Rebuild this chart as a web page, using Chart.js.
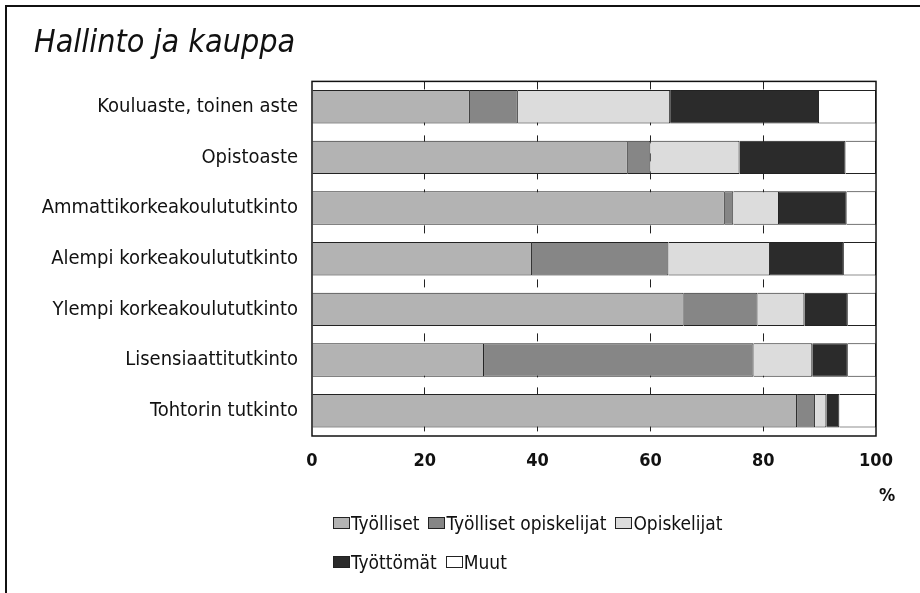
<!DOCTYPE html>
<html lang="fi">
<head>
  <meta charset="UTF-8" />
  <title>Hallinto ja kauppa</title>
  <script src="https://cdn.jsdelivr.net/npm/chart.js"></script>
  <style>
    body { margin: 0; background: #fff; }
    .wrap { position: relative; width: 920px; height: 593px; overflow: hidden; }
    .frame { position: absolute; left: 5px; top: 5px; width: 940px; height: 620px;
             border-left: 2px solid #111; border-top: 2px solid #111; }
    #chart { position: absolute; left: 0; top: 0; }
    .legend { position: absolute; left: 333px; top: 512px; width: 460px;
              font-family: "DejaVu Sans Condensed", sans-serif;
              font-size: 19px; color: #111; }
    .legend .row { display: flex; gap: 9px; height: 39px; align-items: flex-start; }
    .legend .item { display: flex; align-items: center; white-space: nowrap; }
    .legend .box { width: 17px; height: 12px; border: 1px solid #222; margin-right: 1px; box-sizing: border-box; }
  </style>
</head>
<body>
  <div class="wrap">
    <div class="frame"></div>
    <canvas id="chart" width="920" height="593"></canvas>
    <div class="legend" id="legend"></div>
  </div>

  <script>
    // Data (% of graduates)
    const categories = [
      'Kouluaste, toinen aste',
      'Opistoaste',
      'Ammattikorkeakoulututkinto',
      'Alempi korkeakoulututkinto',
      'Ylempi korkeakoulututkinto',
      'Lisensiaattitutkinto',
      'Tohtorin tutkinto'
    ];
    const seriesNames = ['Työlliset', 'Työlliset opiskelijat', 'Opiskelijat', 'Työttömät', 'Muut'];
    const tyolliset      = [28.0, 56.0, 73.2, 39.0, 65.9, 30.5, 86.0];
    const tyollOpisk     = [8.5, 4.0, 1.5, 24.2, 13.1, 47.8, 3.2];
    const opiskelijat    = [27.0, 15.8, 8.1, 18.0, 8.3, 10.4, 2.0];
    const tyottomat      = [26.4, 18.8, 12.0, 13.1, 7.7, 6.3, 2.3];
    const muut           = [10.1, 5.4, 5.2, 5.7, 5.0, 5.0, 6.5];
    const xTicks = [0, 20, 40, 60, 80, 100];

    const colors = ['#b3b3b3', '#868686', '#dcdcdc', '#2b2b2b', '#ffffff'];
    const values = [tyolliset, tyollOpisk, opiskelijat, tyottomat, muut];

    const datasets = seriesNames.map((name, i) => ({
      label: name,
      data: values[i],
      backgroundColor: colors[i],
      borderColor: '#222',
      borderWidth: 1,
      barPercentage: 0.66,
      categoryPercentage: 1
    }));

    const fam = '"DejaVu Sans Condensed", sans-serif';

    // border round the plot and the "%" unit
    const framePlugin = {
      id: 'framePlugin',
      afterDatasetsDraw(chart) {
        const { ctx, chartArea: a } = chart;
        ctx.save();
        ctx.strokeStyle = '#111';
        ctx.lineWidth = 1.5;
        ctx.strokeRect(a.left, a.top, a.right - a.left, a.bottom - a.top);
        ctx.fillStyle = '#111';
        ctx.font = 'bold 18px ' + fam;
        ctx.textAlign = 'center';
        ctx.textBaseline = 'middle';
        ctx.fillText('%', a.right + 11, a.bottom + 60);
        ctx.restore();
      }
    };

    new Chart(document.getElementById('chart'), {
      type: 'bar',
      data: { labels: categories, datasets: datasets },
      options: {
        indexAxis: 'y',
        responsive: false,
        animation: false,
        layout: { padding: { left: 34, right: 44, top: 0, bottom: 117 } },
        plugins: {
          legend: { display: false },
          tooltip: { enabled: false },
          title: {
            display: true,
            text: 'Hallinto ja kauppa',
            align: 'start',
            color: '#111',
            font: { family: fam, size: 32, style: 'italic', weight: 'normal' },
            padding: { top: 24, bottom: 19 }
          }
        },
        scales: {
          x: {
            stacked: true,
            min: 0,
            max: 100,
            afterBuildTicks: s => { s.ticks = xTicks.map(v => ({ value: v })); },
            afterFit: s => { s.height = 40; },
            grid: {
              color: c => (c.tick.value > 0 && c.tick.value < 100) ? '#222' : 'rgba(0,0,0,0)',
              lineWidth: 1,
              drawTicks: false
            },
            border: { display: false, dash: [8, 10] },
            ticks: { color: '#111', padding: 15, font: { family: fam, size: 18, weight: 'bold' } }
          },
          y: {
            stacked: true,
            afterFit: s => { s.width = 278; },
            grid: { display: false, drawTicks: false },
            border: { display: false },
            ticks: { color: '#111', padding: 14, font: { family: fam, size: 20 } }
          }
        }
      },
      plugins: [framePlugin]
    });

    // legend, two rows as in the original
    const legendRows = [[0, 1, 2], [3, 4]];
    const legendEl = document.getElementById('legend');
    legendRows.forEach(row => {
      const r = document.createElement('div');
      r.className = 'row';
      row.forEach(i => {
        const it = document.createElement('div');
        it.className = 'item';
        it.innerHTML = '<span class="box" style="background:' + colors[i] + '"></span>' + seriesNames[i];
        r.appendChild(it);
      });
      legendEl.appendChild(r);
    });
  </script>
</body>
</html>
